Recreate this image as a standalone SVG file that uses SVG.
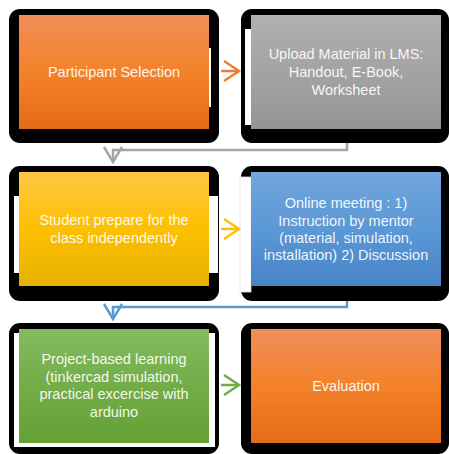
<svg xmlns="http://www.w3.org/2000/svg" width="449" height="454" viewBox="0 0 449 454">
  <defs>
    <linearGradient id="gOrange" x1="0" y1="0" x2="0" y2="1">
      <stop offset="0" stop-color="#f08d58"/>
      <stop offset="0.5" stop-color="#f4822b"/>
      <stop offset="1" stop-color="#e56b17"/>
    </linearGradient>
    <linearGradient id="gGray" x1="0" y1="0" x2="0" y2="1">
      <stop offset="0" stop-color="#b0b0b0"/>
      <stop offset="0.5" stop-color="#a3a3a3"/>
      <stop offset="1" stop-color="#959595"/>
    </linearGradient>
    <linearGradient id="gYellow" x1="0" y1="0" x2="0" y2="1">
      <stop offset="0" stop-color="#ffc745"/>
      <stop offset="0.5" stop-color="#fdc000"/>
      <stop offset="1" stop-color="#e6b100"/>
    </linearGradient>
    <linearGradient id="gBlue" x1="0" y1="0" x2="0" y2="1">
      <stop offset="0" stop-color="#72a6dc"/>
      <stop offset="0.5" stop-color="#5b98d6"/>
      <stop offset="1" stop-color="#4884c6"/>
    </linearGradient>
    <linearGradient id="gGreen" x1="0" y1="0" x2="0" y2="1">
      <stop offset="0" stop-color="#85bb60"/>
      <stop offset="0.5" stop-color="#72ad48"/>
      <stop offset="1" stop-color="#65a034"/>
    </linearGradient>
  </defs>
  <style>
    .frame { fill: #000000; }
    .gap { fill: #ffffff; }
    .label { font-family: "Liberation Sans", Arial, sans-serif; font-size: 14.5px; fill: #ffffff; fill-opacity: 0.93; text-anchor: middle; }
    .conn { fill: none; stroke-width: 2.5; stroke-linejoin: miter; }
  </style>
  <rect width="449" height="454" fill="#ffffff"/>

  <g id="participant-selection">
    <rect class="frame" x="9" y="9" width="210" height="134" rx="11"/>
    <rect class="gap" x="209" y="48" width="2" height="59"/>
    <rect x="19" y="15" width="190" height="114" fill="url(#gOrange)"/>
    <text class="label" x="114" y="77">Participant Selection</text>
  </g>

  <g id="upload-material">
    <rect class="frame" x="241" y="9" width="208" height="134" rx="11"/>
    <rect class="gap" x="245" y="29" width="6" height="96"/>
    <rect x="251" y="15" width="190" height="114" fill="url(#gGray)"/>
    <text class="label" x="346" y="59">Upload Material in LMS:</text>
    <text class="label" x="346" y="77">Handout, E-Book,</text>
    <text class="label" x="346" y="95">Worksheet</text>
  </g>

  <g id="student-prepare">
    <rect class="frame" x="9" y="166" width="210" height="135" rx="11"/>
    <rect class="gap" x="14" y="196" width="204" height="77"/>
    <rect x="19" y="172" width="190" height="114" fill="url(#gYellow)"/>
    <text class="label" x="114" y="225">Student prepare for the</text>
    <text class="label" x="114" y="243">class independently</text>
  </g>

  <g id="online-meeting">
    <rect class="frame" x="241" y="166" width="208" height="135" rx="11"/>
    <rect x="240" y="177" width="11" height="115" fill="#ffffff" stroke="#e6e6e6" stroke-width="0.8"/>
    <rect x="251" y="172" width="190" height="114" fill="url(#gBlue)"/>
    <text class="label" x="346" y="208">Online meeting : 1)</text>
    <text class="label" x="346" y="226">Instruction by mentor</text>
    <text class="label" x="346" y="243">(material, simulation,</text>
    <text class="label" x="346" y="260">installation) 2) Discussion</text>
  </g>

  <g id="project-based-learning">
    <rect class="frame" x="9" y="323" width="210" height="131" rx="11"/>
    <rect class="gap" x="14" y="333" width="201" height="114"/>
    <rect x="19" y="329" width="190" height="114" fill="url(#gGreen)"/>
    <text class="label" x="114" y="364">Project-based learning</text>
    <text class="label" x="114" y="382">(tinkercad simulation,</text>
    <text class="label" x="114" y="399">practical excercise with</text>
    <text class="label" x="114" y="417">arduino</text>
  </g>

  <g id="evaluation">
    <rect class="frame" x="241" y="323" width="208" height="131" rx="11"/>
    <rect x="251" y="329" width="190" height="114" fill="url(#gOrange)"/>
    <text class="label" x="346" y="391">Evaluation</text>
  </g>

  <g id="connectors">
    <!-- Participant Selection -> Upload Material -->
    <g stroke="#ed7d31" class="conn">
      <line x1="221" y1="71" x2="239" y2="71"/>
      <polyline points="224,61 239,71 224,81"/>
    </g>
    <!-- Upload Material -> Student prepare -->
    <g stroke="#a5a5a5" class="conn">
      <polyline points="347,143 347,150 113,150 113,162"/>
      <polyline points="104,147 113,162 122,147"/>
    </g>
    <!-- Student prepare -> Online meeting -->
    <g stroke="#ffc000" class="conn">
      <line x1="221" y1="229" x2="239" y2="229"/>
      <polyline points="224,219 239,229 224,239"/>
    </g>
    <!-- Online meeting -> Project-based learning -->
    <g stroke="#5b9bd5" class="conn">
      <polyline points="347,301 347,307 113,307 113,319"/>
      <polyline points="104,304 113,319 122,304"/>
    </g>
    <!-- Project-based learning -> Evaluation -->
    <g stroke="#70ad47" class="conn">
      <line x1="221" y1="385" x2="239" y2="385"/>
      <polyline points="224,375 239,385 224,395"/>
    </g>
  </g>
</svg>
